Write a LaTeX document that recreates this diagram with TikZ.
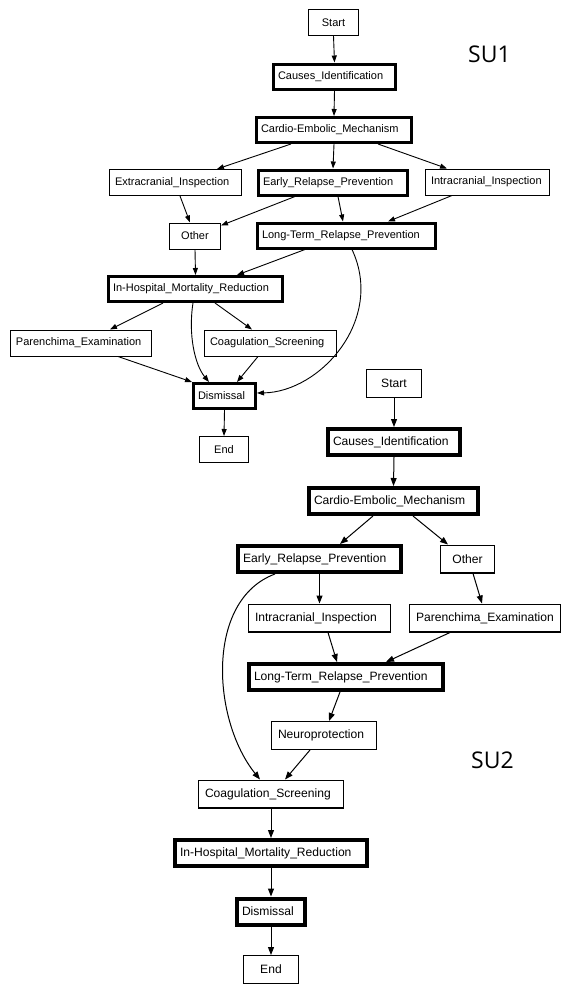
\documentclass[tikz,border=0pt]{standalone}
\usepackage{fontspec}
\setmainfont{Liberation Sans}
\newfontfamily\sulabelfont{Open Sans}
\usetikzlibrary{arrows.meta}
\begin{document}
\begin{tikzpicture}[x=1pt,y=-1pt,
  one/.style={font=\fontsize{11}{13}\selectfont, draw, align=left, inner ysep=0pt},
  onethin/.style={one, line width=1pt, inner xsep=5.5pt, minimum height=26pt},
  onethick/.style={one, line width=3pt, inner xsep=4.5pt, minimum height=25pt},
  two/.style={font=\fontsize{12.1}{14}\selectfont, draw, align=left, inner ysep=0pt},
  twothin/.style={two, line width=1.2pt, inner xsep=6.4pt, minimum height=27.8pt},
  twothick/.style={two, line width=4pt, inner xsep=5pt, minimum height=26pt},
  ctr/.style={align=center},
  tw/.style={text width=#1pt},
  arr/.style={line width=0.9pt, -{Triangle[length=7pt,width=5pt]}},
  arrb/.style={line width=1pt, -{Triangle[length=8pt,width=6pt]}},
  sulabel/.style={font=\sulabelfont\fontsize{23}{23}\selectfont, inner sep=0pt},
]
\useasboundingbox (0,0) rectangle (561,985);

% ---------------- SU1 ----------------
\node[onethin, ctr, tw=39]   (s1start) at (333.5,22.5) {\mbox{Start}};
\node[onethick, tw=113]      (s1cause) at (334.5,76.5) {\mbox{Causes\_Identification}};
\node[onethick, tw=146]      (s1card)  at (334,130)    {\mbox{Cardio-Embolic\_Mechanism}};
\node[onethin, tw=121]       (s1ext)   at (175.5,182.5){\mbox{Extracranial\_Inspection}};
\node[onethick, tw=140]      (s1early) at (333,182.5)  {\mbox{Early\_Relapse\_Prevention}};
\node[onethin, tw=113]       (s1intra) at (487.5,182)  {\mbox{Intracranial\_Inspection}};
\node[onethin, ctr, tw=40]   (s1other) at (195,236)    {\mbox{Other}};
\node[onethick, tw=169]      (s1lt)    at (346.5,235.5){\mbox{Long-Term\_Relapse\_Prevention}};
\node[onethick, tw=165]      (s1inh)   at (195.5,289)  {\mbox{In-Hospital\_Mortality\_Reduction}};
\node[onethin, tw=130]       (s1par)   at (81,343)     {\mbox{Parenchima\_Examination}};
\node[onethin, tw=121]       (s1coag)  at (270.5,343)  {\mbox{Coagulation\_Screening}};
\node[onethick, tw=53]       (s1dis)   at (224.5,396)  {\mbox{Dismissal}};
\node[onethin, ctr, tw=38]   (s1end)   at (224,449.5)  {\mbox{End}};

\node[sulabel] (su1) at (489.5,54.5) {SU1};

\draw[arr] (s1start.south) -- (s1cause.north);
\draw[arr] (s1cause.south) -- (s1card.north);
\draw[arr] ([xshift=-43pt]s1card.south) -- ([xshift=41.5pt]s1ext.north);
\draw[arr] (s1card.south) -- (s1early.north);
\draw[arr] ([xshift=44pt]s1card.south) -- ([xshift=-40.5pt]s1intra.north);
\draw[arr] ([xshift=4.5pt]s1ext.south) -- ([xshift=-5pt]s1other.north);
\draw[arr] ([xshift=-38pt]s1early.south) -- ([yshift=-3pt]s1other.north east);
\draw[arr] ([xshift=5pt]s1early.south) -- ([xshift=-3.5pt]s1lt.north);
\draw[arr] ([xshift=-35.5pt]s1intra.south) -- ([xshift=41.5pt]s1lt.north);
\draw[arr] (s1other.south) -- (s1inh.north);
\draw[arr] ([xshift=-41.5pt]s1lt.south) -- ([xshift=41.5pt]s1inh.north);
\draw[arr] ([xshift=5.5pt]s1lt.south) .. controls (385,320) and (320,392) .. ([yshift=3pt]s1dis.east);
\draw[arr] ([xshift=-32.5pt]s1inh.south) -- ([xshift=29pt]s1par.north);
\draw[arr] ([xshift=-2.5pt]s1inh.south) .. controls (188,335) and (195,365) .. ([xshift=-15.5pt]s1dis.north);
\draw[arr] ([xshift=19.5pt]s1inh.south) -- ([xshift=-18.5pt]s1coag.north);
\draw[arr] ([xshift=37pt]s1par.south) -- (s1dis.north west);
\draw[arr] ([xshift=-12.5pt]s1coag.south) -- ([xshift=12.5pt]s1dis.north);
\draw[arr] (s1dis.south) -- (s1end.north);

% ---------------- SU2 ----------------
\node[twothin, ctr, tw=42]   (s2start) at (394,383.5)  {\mbox{Start}};
\node[twothick, tw=122]      (s2cause) at (394,442)    {\mbox{Causes\_Identification}};
\node[twothick, tw=159]      (s2card)  at (393.5,501)  {\mbox{Cardio-Embolic\_Mechanism}};
\node[twothick, tw=153]      (s2early) at (319.5,559)  {\mbox{Early\_Relapse\_Prevention}};
\node[twothin, ctr, tw=41]   (s2other) at (467.5,559)  {\mbox{Other}};
\node[twothin, tw=129]       (s2intra) at (319.5,618)  {\mbox{Intracranial\_Inspection}};
\node[twothin, tw=138]       (s2par)   at (485,618)    {\mbox{Parenchima\_Examination}};
\node[twothick, tw=184]      (s2lt)    at (346,677)    {\mbox{Long-Term\_Relapse\_Prevention}};
\node[twothin, tw=92]        (s2neuro) at (324,735.5)  {\mbox{Neuroprotection}};
\node[twothin, tw=132]       (s2coag)  at (271,794)    {\mbox{Coagulation\_Screening}};
\node[twothick, tw=182]      (s2inh)   at (271,853)    {\mbox{In-Hospital\_Mortality\_Reduction}};
\node[twothick, tw=58]       (s2dis)   at (271,911.5)  {\mbox{Dismissal}};
\node[twothin, ctr, tw=42]   (s2end)   at (271,969.5)  {\mbox{End}};

\node[sulabel] (su2) at (492.5,760) {SU2};

\draw[arrb] (s2start.south) -- (s2cause.north);
\draw[arrb] (s2cause.south) -- (s2card.north);
\draw[arrb] ([xshift=-20.5pt]s2card.south) -- ([xshift=20.5pt]s2early.north);
\draw[arrb] ([xshift=19.5pt]s2card.south) -- ([xshift=-19.5pt]s2other.north);
\draw[arrb] (s2early.south) -- (s2intra.north);
\draw[arrb] ([xshift=-44.5pt]s2early.south) .. controls (205,600) and (212,720) .. ([xshift=-11pt]s2coag.north);
\draw[arrb] ([xshift=5.5pt]s2other.south) -- ([xshift=-3pt]s2par.north);
\draw[arrb] ([xshift=8.5pt]s2intra.south) -- ([xshift=-9pt]s2lt.north);
\draw[arrb] ([xshift=-35pt]s2par.south) -- ([xshift=40pt]s2lt.north);
\draw[arrb] ([xshift=-6pt]s2lt.south) -- ([xshift=5pt]s2neuro.north);
\draw[arrb] ([xshift=-14pt]s2neuro.south) -- ([xshift=14pt]s2coag.north);
\draw[arrb] (s2coag.south) -- (s2inh.north);
\draw[arrb] (s2inh.south) -- (s2dis.north);
\draw[arrb] (s2dis.south) -- (s2end.north);
\end{tikzpicture}
\end{document}
